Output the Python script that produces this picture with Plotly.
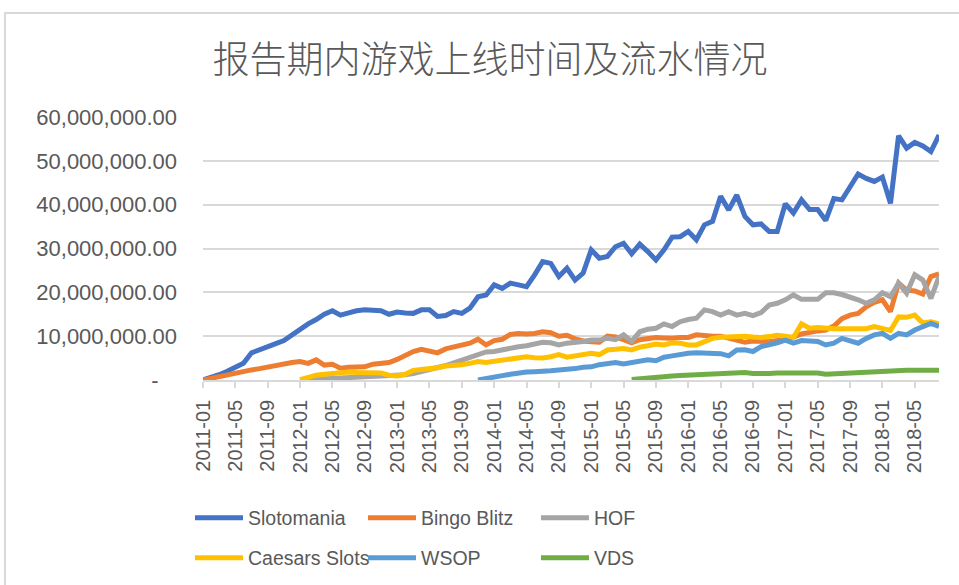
import plotly.graph_objects as go

# ---------------- data (values in millions) ----------------
months = [f"{2011 + k // 12}-{k % 12 + 1:02d}" for k in range(92)]  # 2011-01 .. 2018-08

slotomania = [0, 0.5, 1.2, 2.0, 2.8, 3.8, 6.2, 7.0, 7.6, 8.3,
              9.0, 10.3, 11.5, 12.8, 13.8, 15.0, 15.8, 14.8, 15.3, 15.8,
              16.0, 16.0, 15.8, 15.0, 15.5, 15.3, 15.2, 16.0, 16.0, 14.5,
              14.7, 15.6, 15.2, 16.4, 19.0, 19.4, 21.7, 20.9, 22.1, 21.7,
              21.3, 24.0, 27.0, 26.6, 23.6, 25.5, 22.8, 24.4, 29.7, 27.8,
              28.2, 30.4, 31.2, 28.8, 31.0, 29.3, 27.4, 29.7, 32.6, 32.7,
              33.9, 32.0, 35.4, 36.2, 41.9, 38.8, 42.2, 37.3, 35.4, 35.6,
              33.9, 33.9, 40.2, 38.1, 41.1, 38.9, 38.9, 36.4, 41.4, 41.1,
              44.1, 47.0, 46.0, 45.3, 46.3, 40.3, 55.7, 52.9, 54.2, 53.4,
              52.1, 55.9]

bingo_blitz = [0, 0.4, 0.8, 1.3, 1.7, 2.0, 2.3, 2.6, 3.0, 3.4,
               3.8, 4.0, 4.2, 3.8, 4.6, 3.4, 3.6, 2.7, 2.9, 3.0,
               3.0, 3.6, 3.7, 4.0, 4.7, 5.6, 6.5, 7.0, 6.7, 6.2,
               7.1, 7.6, 8.0, 8.4, 9.3, 8.0, 9.0, 9.3, 10.4, 10.6,
               10.5, 10.6, 11.0, 10.8, 10.0, 10.2, 9.4, 8.9, 8.7, 8.6,
               10.0, 9.8, 9.2, 8.5, 9.2, 9.5, 9.7, 9.6, 9.5, 9.7,
               9.7, 10.3, 10.1, 10.0, 10.0, 9.5, 8.9, 8.6, 8.9, 8.75,
               8.75, 9.0, 9.3, 9.8, 10.5, 10.9, 11.2, 11.4, 12.3, 14.0,
               14.8, 15.2, 16.7, 17.7, 18.3, 15.6, 22.1, 20.5, 20.3, 19.6,
               23.6, 24.2]

hof = [None] * 12 + [
    0, 0.1, 0.2, 0.3, 0.4, 0.5, 0.5, 0.6, 0.7, 0.8,
    0.8, 0.9, 1.0, 1.2, 1.5, 1.9, 2.3, 2.7, 3.3, 3.9,
    4.5, 5.2, 5.9, 6.4, 6.5, 6.9, 7.4, 7.6, 7.8, 8.3,
    8.6, 8.5, 8.0, 8.4, 8.5, 8.8, 9.1, 9.1, 9.5, 9.2,
    10.3, 8.8, 11.0, 11.6, 11.8, 12.8, 12.2, 13.3, 13.8, 14.1,
    16.0, 15.6, 14.8, 15.6, 14.8, 15.2, 14.7, 15.4, 17.1, 17.5,
    18.3, 19.4, 18.4, 18.4, 18.4, 19.9, 19.9, 19.5, 19.0, 18.3,
    17.5, 18.3, 19.9, 19.0, 22.1, 19.8, 24.0, 22.8, 18.6, 23.6]

caesars_slots = [None] * 12 + [
    0.1, 0.6, 1.1, 1.3, 1.5, 1.6, 1.8, 1.7, 1.6, 1.5,
    1.6, 1.1, 0.9, 1.3, 2.2, 2.4, 2.5, 2.8, 3.2, 3.3,
    3.5, 3.8, 4.2, 4.0, 4.3, 4.6, 4.8, 5.0, 5.3, 5.1,
    5.0, 5.3, 5.8, 5.2, 5.5, 5.9, 6.1, 5.8, 6.85, 7.0,
    7.2, 6.85, 7.5, 7.8, 8.2, 8.0, 8.5, 8.4, 8.0, 8.0,
    8.75, 9.5, 9.75, 9.9, 9.9, 10.0, 9.8, 9.7, 9.9, 10.2,
    10.0, 9.7, 12.8, 11.8, 12.0, 11.8, 11.7, 11.7, 11.7, 11.7,
    11.7, 12.2, 11.8, 11.3, 14.4, 14.3, 14.8, 13.0, 13.3, 12.8]

wsop = [None] * 34 + [
    0.0, 0.4, 0.8, 1.0, 1.3, 1.6, 1.8, 1.9,
    1.9, 2.1, 2.3, 2.4, 2.6, 2.9, 3.0, 3.5, 3.8, 4.0,
    3.65, 4.0, 4.2, 4.6, 4.4, 5.2, 5.5, 5.9, 6.1, 6.2,
    6.2, 6.2, 6.0, 5.5, 6.85, 6.9, 6.5, 7.6, 8.2, 8.5,
    9.1, 8.4, 9.0, 8.8, 8.8, 8.0, 8.4, 9.5, 9.0, 8.4,
    9.5, 10.3, 10.65, 9.5, 10.65, 10.3, 11.4, 12.3, 12.9, 12.2]

vds = [None] * 53 + [
    0.1, 0.3, 0.5, 0.6, 0.8, 0.9, 1.0, 1.1, 1.2, 1.3,
    1.3, 1.4, 1.5, 1.5, 1.7, 1.5, 1.4, 1.5, 1.6, 1.6,
    1.6, 1.6, 1.6, 1.6, 1.3, 1.4, 1.6, 1.7, 1.8, 1.8,
    1.9, 2.0, 2.1, 2.2, 2.2, 2.2, 2.2, 2.2, 2.2]

series_names = ["Slotomania", "Bingo Blitz", "HOF", "Caesars Slots", "WSOP", "VDS"]
series_values = [slotomania, bingo_blitz, hof, caesars_slots, wsop, vds]
series_colors = ["#4472C4", "#ED7D31", "#A5A5A5", "#FFC000", "#5B9BD5", "#70AD47"]
series_legend = ["legend", "legend", "legend", "legend2", "legend2", "legend2"]

y_tickvals = [0, 10e6, 20e6, 30e6, 40e6, 50e6, 60e6]
y_ticktext = ["-\u00a0\u00a0\u00a0", "10,000,000.00", "20,000,000.00", "30,000,000.00",
              "40,000,000.00", "50,000,000.00", "60,000,000.00"]
x_tickvals = months[::4]

title_text = "报告期内游戏上线时间及流水情况"

# ---------------- figure ----------------
fig = go.Figure()
for name, vals, col, lg in zip(series_names, series_values, series_colors, series_legend):
    fig.add_trace(go.Scatter(
        x=months,
        y=[v * 1e6 if v is not None else None for v in vals],
        mode="lines", name=name, legend=lg,
        line=dict(color=col, width=5),
        connectgaps=False,
    ))

W, H = 959, 585
L, R, T, B = 203, 20, 117, 205
pw, ph = W - L - R, H - T - B

def px_x(x):
    return (x - L) / pw

def px_y(y):
    return (H - B - y) / ph

legend_common = dict(orientation="h", xanchor="left", yanchor="middle",
                     font=dict(family="Liberation Sans, Arial, sans-serif", size=19.5, color="#595959"),
                     entrywidthmode="pixels", entrywidth=110, bgcolor="rgba(0,0,0,0)",
                     itemwidth=48, tracegroupgap=0)

fig.update_layout(
    width=W, height=H,
    margin=dict(l=L, r=R, t=T, b=B, autoexpand=False),
    paper_bgcolor="white", plot_bgcolor="white",
    font=dict(family="Liberation Sans, Arial, sans-serif", color="#595959"),
    title=dict(text=title_text, x=490 / W, xanchor="center", xref="container",
               y=1 - 60 / H, yanchor="middle", yref="container",
               font=dict(family="Noto Sans CJK SC", size=37, color="#595959", weight=300)),
    xaxis=dict(type="category", range=[0, len(months) - 1],
               tickmode="array", tickvals=x_tickvals, ticktext=x_tickvals,
               tickangle=-90, tickfont=dict(size=20, color="#595959"),
               ticks="outside", ticklen=6, tickcolor="#d9d9d9", tickwidth=1.5,
               ticklabelstandoff=4,
               showline=True, linecolor="#d9d9d9", linewidth=1.5,
               showgrid=False, zeroline=False, automargin=False),
    yaxis=dict(range=[0, 60e6], tickmode="array", tickvals=y_tickvals, ticktext=y_ticktext,
               tickfont=dict(size=22, color="#595959"),
               showgrid=True, gridcolor="#d9d9d9", gridwidth=1.5,
               zeroline=False, showline=False, ticks="", ticklabelstandoff=25,
               automargin=False),
    legend=dict(x=px_x(190), y=px_y(518), **legend_common),
    legend2=dict(x=px_x(190), y=px_y(558), **legend_common),
    showlegend=True,
    shapes=[dict(type="rect", xref="paper", yref="paper",
                 x0=px_x(5), x1=px_x(975), y0=px_y(600), y1=px_y(13),
                 line=dict(color="#d9d9d9", width=2), fillcolor="rgba(0,0,0,0)", layer="below")],
)

fig.write_html("out.html", config={"displayModeBar": False},
               post_script="document.body.style.margin='0';")
